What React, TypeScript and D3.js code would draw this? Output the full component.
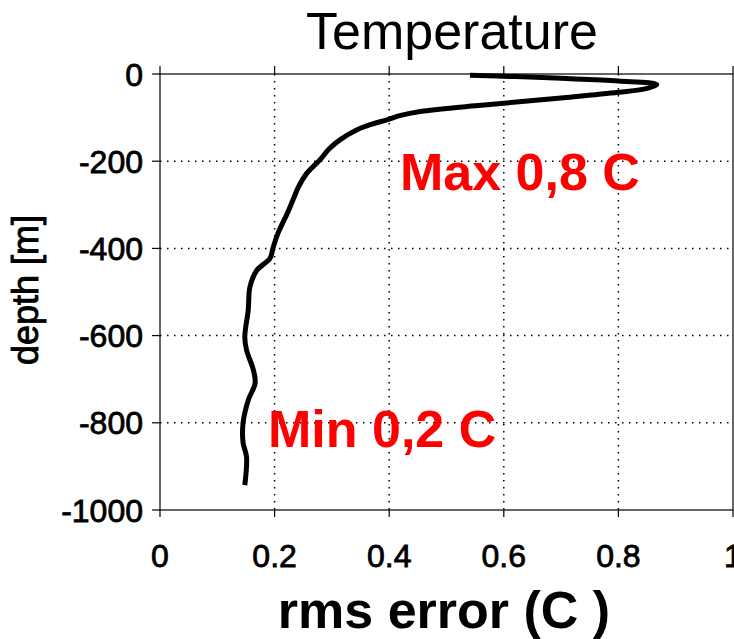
import React from "react";
import * as d3 from "d3";

const rmsError = [0.541, 0.62, 0.70, 0.80, 0.867, 0.85, 0.80, 0.70, 0.60, 0.55, 0.50, 0.454, 0.42, 0.396, 0.37, 0.344, 0.314, 0.295, 0.279, 0.256, 0.242, 0.232, 0.222, 0.206, 0.197, 0.192, 0.169, 0.157, 0.154, 0.148, 0.151, 0.163, 0.166, 0.154, 0.145, 0.145, 0.151, 0.148];
const depth = [-3, -6, -10, -16, -24, -33, -42, -55, -67, -73, -79, -86, -95, -105, -115, -128, -151, -172, -197, -228, -258, -289, -320, -365, -400, -423, -450, -488, -541, -603, -633, -679, -709, -748, -800, -846, -878, -943];
const xTicks = [0, 0.2, 0.4, 0.6, 0.8, 1];
const yTicks = [0, -200, -400, -600, -800, -1000];
const xTickLabels = ["0", "0.2", "0.4", "0.6", "0.8", "1"];
const yTickLabels = ["0", "-200", "-400", "-600", "-800", "-1000"];
const title = "Temperature";
const xLabel = "rms error (C )";
const yLabel = "depth [m]";
const annotMax = "Max 0,8 C";
const annotMin = "Min 0,2 C";

const W = 734, H = 639;
const L = 160, R = 733, T = 74, B = 510;

export default function App() {
  const x = d3.scaleLinear().domain([0, 1]).range([L, R]);
  const y = d3.scaleLinear().domain([-1000, 0]).range([B, T]);
  const pts = rmsError.map((v, i) => [v, depth[i]] as [number, number]);
  const line = d3.line<[number, number]>().x(d => x(d[0])).y(d => y(d[1])).curve(d3.curveCatmullRom.alpha(0.5));
  const font = "Liberation Sans, Arial, Helvetica, sans-serif";
  return (
    <svg width={W} height={H} style={{ position: "absolute", left: 0, top: 0, background: "#fff" }} fontFamily={font}>
      <rect x={0} y={0} width={W} height={H} fill="#fff" />
      {xTicks.filter(t => t > 0 && t < 1).map(t => (
        <line key={"gx" + t} x1={x(t)} x2={x(t)} y1={T} y2={B} stroke="#000" strokeWidth={1.5} strokeDasharray="1.5,5.5" />
      ))}
      {yTicks.filter(t => t < 0 && t > -1000).map(t => (
        <line key={"gy" + t} x1={L} x2={R} y1={y(t)} y2={y(t)} stroke="#000" strokeWidth={1.5} strokeDasharray="1.5,5.5" />
      ))}
      <rect x={L} y={T} width={R - L} height={B - T} fill="none" stroke="#000" strokeWidth={1.2} />
      {xTicks.map(t => (
        <g key={"tx" + t}>
          <line x1={x(t)} x2={x(t)} y1={T - 8} y2={T} stroke="#000" strokeWidth={1.2} />
          <line x1={x(t)} x2={x(t)} y1={B} y2={B + 7} stroke="#000" strokeWidth={1.2} />
        </g>
      ))}
      {yTicks.map(t => (
        <line key={"ty" + t} x1={L - 8} x2={L} y1={y(t)} y2={y(t)} stroke="#000" strokeWidth={1.2} />
      ))}
      {xTicks.map((t, i) => (
        <text key={"lx" + t} x={x(t)} y={567} textAnchor="middle" fontSize={32} fill="#000" stroke="#000" strokeWidth={0.8}>{xTickLabels[i]}</text>
      ))}
      {yTicks.map((t, i) => (
        <text key={"ly" + t} x={143} y={y(t) + 11.5} textAnchor="end" fontSize={32} fill="#000" stroke="#000" strokeWidth={0.8}>{yTickLabels[i]}</text>
      ))}
      <path d={line(pts) || ""} fill="none" stroke="#000" strokeWidth={5} strokeLinejoin="round" />
      <text x={400} y={190} fontSize={52} fontWeight="bold" fill="#ff0000">{annotMax}</text>
      <text x={268} y={447} fontSize={52} fontWeight="bold" fill="#ff0000">{annotMin}</text>
      <text x={452} y={49} textAnchor="middle" fontSize={52} fill="#000">{title}</text>
      <text x={444} y={628} textAnchor="middle" fontSize={52} fontWeight="bold" fill="#000">{xLabel}</text>
      <text transform={`translate(38,290) rotate(-90)`} textAnchor="middle" fontSize={36} fill="#000" stroke="#000" strokeWidth={0.9}>{yLabel}</text>
    </svg>
  );
}
